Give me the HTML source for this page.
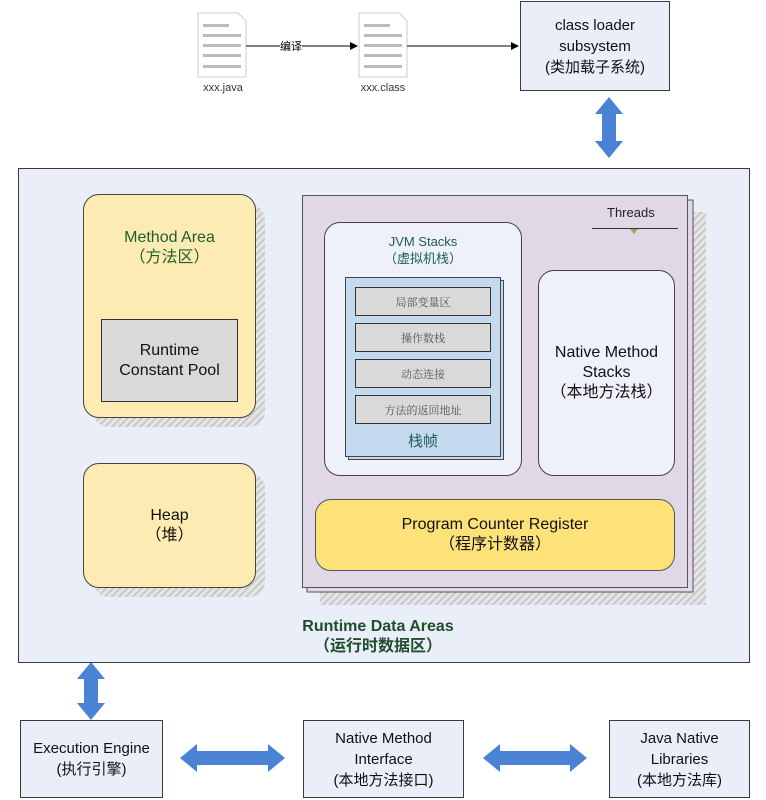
<!DOCTYPE html>
<html><head><meta charset="utf-8"><style>
body{margin:0;width:766px;height:800px;background:#fff;position:relative;overflow:hidden;font-family:"Liberation Sans","Noto Sans CJK SC",sans-serif;}
.a{position:absolute;box-sizing:border-box;}
.c{display:flex;flex-direction:column;align-items:center;justify-content:center;text-align:center;}
.box{background:#e9eef8;border:1px solid #3a3a3a;}
.y{background:#fdebb4;border:1px solid #444;border-radius:16px;}
.row{background:#d9d9d9;border:1px solid #333;font-size:11px;color:#555;font-family:"Noto Serif CJK SC",serif;}
</style></head><body>
<svg class="a" style="left:0;top:0" width="766" height="800">
<defs>
<pattern id="h" width="5" height="5" patternUnits="userSpaceOnUse" patternTransform="rotate(45)"><rect width="5" height="5" fill="#e6e6e6"/><rect width="2" height="5" fill="#c8c8c8"/></pattern>
<marker id="m" markerWidth="8" markerHeight="8" refX="7" refY="4" orient="auto"><path d="M0,0 L8,4 L0,8z" fill="#000"/></marker>
</defs>
<!-- file icons -->
<g fill="#fff" stroke="#ccc"><path d="M198,13 h40 l8,8 v56 h-48z"/><path d="M359,13 h40 l8,8 v56 h-48z"/></g>
<g fill="#bbb"><rect x="203" y="24" width="26" height="3"/><rect x="203" y="34" width="38" height="3"/><rect x="203" y="44" width="38" height="3"/><rect x="203" y="54" width="38" height="3"/><rect x="203" y="65" width="38" height="3"/>
<rect x="364" y="24" width="26" height="3"/><rect x="364" y="34" width="38" height="3"/><rect x="364" y="44" width="38" height="3"/><rect x="364" y="54" width="38" height="3"/><rect x="364" y="65" width="38" height="3"/></g>
<line x1="246" y1="46" x2="357" y2="46" stroke="#000" marker-end="url(#m)"/>
<line x1="407" y1="46" x2="518" y2="46" stroke="#000" marker-end="url(#m)"/>
<!-- blue arrows -->
<g fill="#4a83d4">
<path d="M609,97 L623,114 L616,114 L616,141 L623,141 L609,158 L595,141 L602,141 L602,114 L595,114z"/>
<path d="M91,662 L105,679 L98,679 L98,703 L105,703 L91,720 L77,703 L84,703 L84,679 L77,679z"/>
<path d="M180,758 L197,744 L197,751 L268,751 L268,744 L285,758 L268,772 L268,765 L197,765 L197,772z"/>
<path d="M483,758 L500,744 L500,751 L570,751 L570,744 L587,758 L570,772 L570,765 L500,765 L500,772z"/>
</g>
</svg>
<div class="a" style="left:183px;top:82px;width:80px;text-align:center;font-size:11px;color:#333">xxx.java</div>
<div class="a" style="left:343px;top:82px;width:80px;text-align:center;font-size:11px;color:#333">xxx.class</div>
<div class="a" style="left:280px;top:38px;font-size:11px;background:#fff;color:#000">编译</div>
<div class="a box c" style="left:520px;top:1px;width:150px;height:90px;font-size:15px;line-height:21px;color:#111">class loader<br>subsystem<br>(类加载子系统)</div>

<div class="a box" style="left:18px;top:168px;width:732px;height:495px;"></div>
<svg class="a" style="left:0;top:0" width="766" height="800">
<rect x="93" y="204" width="172" height="223" rx="16" fill="url(#h)"/>
<rect x="93" y="473" width="172" height="124" rx="16" fill="url(#h)"/>
<rect x="320" y="212" width="386" height="393" fill="url(#h)"/>
<rect x="307" y="200" width="386" height="392" fill="#e0d8e6" stroke="#555"/>
</svg>
<div class="a y" style="left:83px;top:194px;width:173px;height:224px;"></div>
<div class="a" style="left:83px;top:228px;width:173px;text-align:center;font-size:16px;line-height:20px;color:#1e5e2a">Method Area<br>（方法区）</div>
<div class="a c" style="left:101px;top:319px;width:137px;height:83px;background:#d9d9d9;border:1px solid #333;font-size:16px;line-height:20px;color:#111">Runtime<br>Constant Pool</div>
<div class="a y c" style="left:83px;top:463px;width:173px;height:125px;font-size:16px;line-height:20px;color:#111">Heap<br>（堆）</div>

<div class="a" style="left:302px;top:195px;width:386px;height:393px;background:#e0d8e6;border:1px solid #555"></div>
<div class="a" style="left:607px;top:205px;font-size:13px;color:#222">Threads</div>
<div class="a" style="left:592px;top:228px;width:86px;height:1px;background:#333"></div>
<div class="a" style="left:630px;top:229px;width:0;height:0;border-left:4px solid transparent;border-right:4px solid transparent;border-top:5px solid #8db04a"></div>

<div class="a" style="left:324px;top:222px;width:198px;height:254px;background:#eef1fa;border:1px solid #444;border-radius:16px"></div>
<div class="a" style="left:324px;top:233px;width:198px;text-align:center;font-size:13px;line-height:17px;color:#1e5e4a">JVM Stacks<br>（虚拟机栈）</div>
<div class="a" style="left:348px;top:280px;width:156px;height:180px;background:#c5d9ee;border:1px solid #444"></div>
<div class="a" style="left:345px;top:277px;width:156px;height:180px;background:#c5d9ee;border:1px solid #444"></div>
<div class="a row c" style="left:355px;top:287px;width:136px;height:29px">局部变量区</div>
<div class="a row c" style="left:355px;top:323px;width:136px;height:29px">操作数栈</div>
<div class="a row c" style="left:355px;top:359px;width:136px;height:29px">动态连接</div>
<div class="a row c" style="left:355px;top:395px;width:136px;height:29px">方法的返回地址</div>
<div class="a" style="left:345px;top:430px;width:156px;text-align:center;font-size:15px;color:#1e5e5a">栈帧</div>

<div class="a c" style="left:538px;top:270px;width:137px;height:206px;background:#eef1fa;border:1px solid #444;border-radius:16px;font-size:16px;line-height:20px;color:#111">Native Method<br>Stacks<br>（本地方法栈）</div>
<div class="a c" style="left:315px;top:499px;width:360px;height:72px;background:#fde27a;border:1px solid #555;border-radius:16px;font-size:16px;line-height:20px;color:#111">Program Counter Register<br>（程序计数器）</div>

<div class="a" style="left:250px;top:617px;width:256px;text-align:center;font-size:16px;line-height:20px;font-weight:bold;color:#1e4e2a">Runtime Data Areas<br>（运行时数据区）</div>

<div class="a box c" style="left:20px;top:720px;width:143px;height:78px;font-size:15px;line-height:21px;color:#111">Execution Engine<br>(执行引擎)</div>
<div class="a box c" style="left:303px;top:720px;width:161px;height:78px;font-size:15px;line-height:21px;color:#111">Native Method<br>Interface<br>(本地方法接口)</div>
<div class="a box c" style="left:609px;top:720px;width:141px;height:78px;font-size:15px;line-height:21px;color:#111">Java Native<br>Libraries<br>(本地方法库)</div>
</body></html>
